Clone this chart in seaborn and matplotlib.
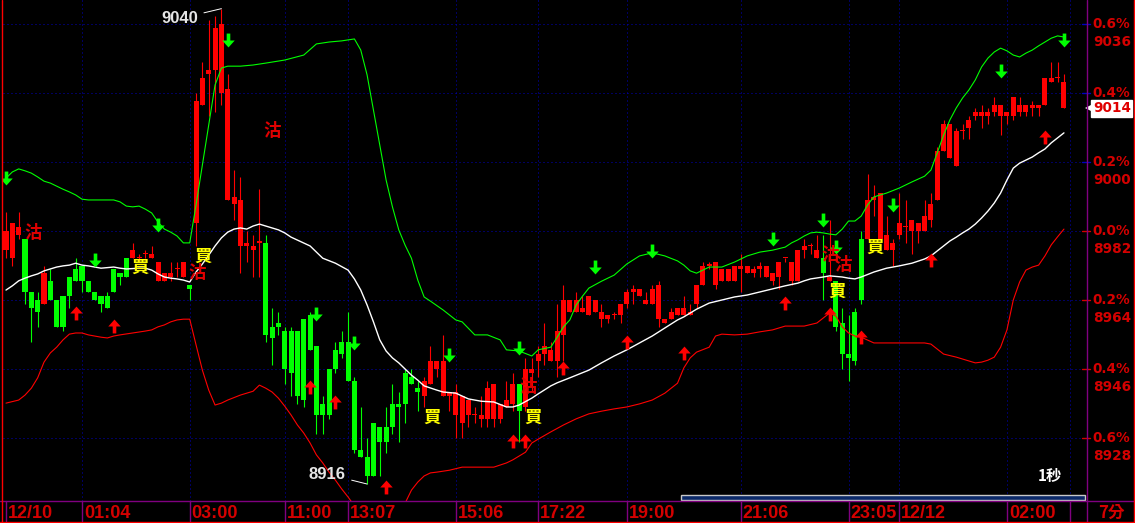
import numpy as np
import pandas as pd
import matplotlib
matplotlib.use("Agg")
import matplotlib.pyplot as plt
import matplotlib.transforms as mtransforms
from matplotlib.lines import Line2D
from matplotlib.patches import Rectangle
import seaborn as sns

# ---- candles (1 per bar, left to right) ----
opens = [8977, 8975, 8981, 8980, 8966, 8964, 8963, 8969, 8964, 8965, 8970, 8972, 8973, 8969, 8966, 8965, 8965, 8972, 8971, 8975,
         8975, 8975, 8976, 8975, 8969, 8969, 8970, 8972, 8970, 8968, 8984, 9015, 9023, 9024, 9018, 8990, 8989, 8978, 8978, 8977,
         8979, 8979, 8957, 8958, 8956, 8956, 8956, 8959, 8960, 8952, 8937, 8946, 8951, 8953, 8953, 8943, 8925, 8923, 8932, 8931,
         8931, 8937, 8937, 8945, 8944, 8941, 8939, 8942, 8946, 8939, 8939, 8934, 8932, 8934, 8934, 8933, 8933, 8933, 8933, 8936,
         8937, 8942, 8936, 8945, 8948, 8950, 8948, 8948, 8955, 8961, 8961, 8961, 8960, 8961, 8959, 8959, 8960, 8960, 8963, 8966,
         8965, 8963, 8963, 8959, 8958, 8959, 8960, 8960, 8960, 8963, 8968, 8973, 8968, 8969, 8969, 8969, 8972, 8971, 8971, 8972,
         8970, 8969, 8970, 8975, 8969, 8969, 8977, 8978, 8975, 8975, 8969, 8969, 8958, 8950, 8961, 8980, 8980, 8990, 8980, 8977,
         8977, 8981, 8983, 8982, 8982, 8982, 8985, 8990, 9003, 9001, 8999, 9008, 9009, 9012, 9012, 9012, 9013, 9012, 9012, 9012,
         9013, 9013, 9014, 9014, 9015, 9021, 9022, 9014]
highs = [8987, 8984, 8987, 8980, 8966, 8966, 8973, 8972, 8964, 8965, 8970, 8975, 8973, 8969, 8966, 8965, 8966, 8972, 8971, 8975,
         8979, 8976, 8977, 8978, 8974, 8971, 8974, 8974, 8974, 8968, 9018, 9026, 9037, 9038, 9040, 9023, 8998, 8996, 8982, 8981,
         8993, 8981, 8962, 8961, 8957, 8957, 8956, 8959, 8961, 8952, 8939, 8946, 8953, 8956, 8961, 8944, 8936, 8928, 8932, 8931,
         8936, 8942, 8940, 8946, 8946, 8943, 8944, 8952, 8948, 8955, 8940, 8942, 8939, 8938, 8936, 8939, 8943, 8942, 8937, 8943,
         8945, 8942, 8949, 8949, 8952, 8958, 8953, 8963, 8968, 8964, 8966, 8965, 8965, 8964, 8963, 8960, 8961, 8963, 8967, 8968,
         8967, 8966, 8968, 8969, 8959, 8962, 8962, 8965, 8963, 8968, 8974, 8974, 8974, 8972, 8972, 8973, 8976, 8973, 8973, 8974,
         8973, 8971, 8974, 8975, 8974, 8977, 8980, 8979, 8981, 8981, 8985, 8969, 8962, 8960, 8962, 8982, 8997, 8994, 8992, 8986,
         8980, 8992, 8990, 8985, 8984, 8990, 8992, 9004, 9011, 9010, 9009, 9010, 9012, 9014, 9015, 9014, 9017, 9015, 9013, 9017,
         9017, 9015, 9016, 9015, 9022, 9026, 9026, 9023]
lows = [8975, 8973, 8980, 8963, 8953, 8957, 8963, 8964, 8957, 8956, 8962, 8969, 8966, 8966, 8964, 8961, 8962, 8966, 8968, 8970,
        8975, 8974, 8975, 8975, 8969, 8969, 8969, 8970, 8970, 8964, 8978, 9015, 9012, 9013, 9015, 8990, 8985, 8971, 8974, 8970,
        8970, 8953, 8947, 8955, 8942, 8939, 8937, 8936, 8951, 8929, 8929, 8933, 8945, 8949, 8943, 8924, 8923, 8916, 8918, 8918,
        8924, 8929, 8927, 8932, 8942, 8935, 8936, 8942, 8944, 8939, 8935, 8928, 8928, 8931, 8932, 8931, 8931, 8931, 8932, 8936,
        8935, 8927, 8935, 8940, 8944, 8947, 8948, 8944, 8948, 8961, 8961, 8961, 8960, 8961, 8957, 8958, 8959, 8958, 8962, 8963,
        8965, 8963, 8963, 8957, 8958, 8959, 8960, 8960, 8960, 8962, 8968, 8972, 8967, 8969, 8969, 8969, 8966, 8971, 8970, 8970,
        8970, 8968, 8967, 8974, 8968, 8969, 8975, 8976, 8975, 8964, 8969, 8956, 8946, 8943, 8947, 8963, 8980, 8986, 8980, 8977,
        8973, 8980, 8979, 8976, 8979, 8982, 8983, 8990, 9003, 9001, 8999, 9006, 9006, 9011, 9009, 9010, 9012, 9007, 9010, 9011,
        9012, 9012, 9012, 9012, 9015, 9021, 9021, 9014]
closes = [8982, 8984, 8983, 8966, 8962, 8961, 8971, 8964, 8957, 8957, 8965, 8969, 8969, 8966, 8964, 8963, 8962, 8966, 8970, 8970,
          8977, 8975, 8976, 8976, 8974, 8971, 8971, 8972, 8974, 8967, 9016, 9022, 9024, 9035, 9036, 9019, 8991, 8990, 8979, 8978,
          8979, 8955, 8954, 8957, 8946, 8945, 8939, 8938, 8951, 8934, 8934, 8934, 8946, 8950, 8943, 8925, 8923, 8918, 8918, 8927,
          8927, 8931, 8936, 8937, 8942, 8940, 8943, 8948, 8948, 8948, 8940, 8940, 8939, 8938, 8934, 8934, 8941, 8942, 8937, 8938,
          8942, 8935, 8946, 8946, 8950, 8952, 8951, 8956, 8964, 8964, 8964, 8962, 8965, 8964, 8961, 8960, 8960, 8963, 8966, 8967,
          8967, 8964, 8967, 8968, 8959, 8961, 8962, 8962, 8961, 8968, 8973, 8973, 8974, 8972, 8972, 8973, 8973, 8973, 8972, 8973,
          8973, 8971, 8974, 8975, 8974, 8977, 8978, 8978, 8977, 8971, 8970, 8957, 8950, 8949, 8948, 8964, 8990, 8991, 8992, 8981,
          8979, 8984, 8983, 8985, 8984, 8986, 8989, 9003, 9010, 9010, 9008, 9008, 9011, 9013, 9013, 9013, 9015, 9015, 9013, 9017,
          9015, 9015, 9015, 9015, 9022, 9022, 9022, 9021]

# ---- bollinger bands, read at these bar positions ----
upper_idx = [0, 1, 2, 3, 4, 5, 6, 7, 8, 9, 10, 11, 12, 13,
             17, 18, 19, 20, 21, 22, 23, 24, 25, 26, 27, 28, 29, 30, 31, 32, 33, 34, 35,
             37, 39, 41, 44, 47, 49, 51, 53, 55,
             56, 57, 58, 59, 60, 61, 62, 63, 64, 65, 66, 67,
             69, 71, 72, 74, 76, 78, 79, 81, 83, 84, 86,
             87, 88, 89, 90, 91, 92,
             94, 96, 98, 100, 102, 104, 106,
             107, 108, 109,
             111, 113, 115, 117, 119, 121, 123,
             124, 125, 126, 127, 128, 129, 130, 131, 132, 133, 134, 135, 136, 137,
             139, 141, 143, 145,
             146, 147, 148, 149, 150, 151, 152, 153, 154, 155, 156, 157, 158, 159, 160, 161, 162, 163, 164, 165, 166, 167]
upper_val = [8995.8, 8997.4, 8998.2, 8997.7, 8997.1, 8996.1, 8995.0, 8994.5, 8993.7, 8992.9, 8992.2, 8991.4, 8990.3, 8990.1,
             8990.1, 8989.6, 8988.5, 8988.3, 8988.5, 8987.7, 8986.7, 8984.3, 8982.5, 8981.7, 8980.7, 8978.9, 8978.9, 8988.8, 8999.2, 9009.6, 9020.1, 9024.5, 9025.0,
             9025.0, 9025.3, 9025.8, 9026.6, 9027.9, 9030.8, 9031.3, 9031.6, 9032.1,
             9029.2, 9022.7, 9013.6, 9004.4, 8995.3, 8988.3, 8982.3, 8978.3, 8974.9, 8969.2, 8964.8, 8963.7,
             8961.4, 8958.8, 8958.3, 8954.9, 8954.9, 8953.6, 8951.0, 8950.7, 8949.4, 8951.0, 8951.7,
             8954.3, 8957.0, 8958.8, 8962.7, 8965.0, 8967.1,
             8968.9, 8970.5, 8973.4, 8975.5, 8976.3, 8975.5, 8974.2,
             8973.1, 8971.6, 8971.0,
             8972.6, 8972.6, 8973.9, 8975.5, 8976.5, 8977.0, 8977.8,
             8978.9, 8979.7, 8980.7, 8981.5, 8981.7, 8981.5, 8981.2, 8981.0, 8982.5, 8984.6, 8984.6, 8985.9, 8988.8, 8990.9,
             8991.9, 8993.2, 8994.8, 8996.3,
             8997.9, 9002.4, 9007.0, 9011.0, 9014.1, 9016.7, 9018.8, 9021.4, 9024.8, 9027.1, 9028.7, 9029.7, 9029.0, 9027.9, 9027.4, 9028.4, 9029.2, 9030.3, 9031.3, 9032.3, 9032.9, 9032.6]

mid_idx = [0, 1, 2, 3, 4, 5, 6, 7, 8, 9, 10, 11, 12, 13, 14, 15,
           17, 18, 19, 21, 22, 23, 24, 25, 26, 27, 28, 29,
           30, 31, 32, 33, 34, 35, 36, 37, 38, 39, 40, 41, 42, 43, 44, 45,
           48, 50, 52, 54,
           55, 56, 57, 58, 59, 60, 61, 62, 63, 64, 65, 66,
           68, 69, 71, 73, 75, 77, 79, 80, 81, 83, 84,
           86, 87, 89, 92, 94, 96, 98, 100, 102, 104, 106, 107, 109, 111, 113, 115, 117, 119, 121, 123, 125, 126, 127, 129, 130, 132, 133, 134, 135, 137, 139, 141, 143, 145,
           146, 147, 148, 149, 150, 151, 152, 153, 154, 155, 156, 157, 158, 159, 160, 161, 162, 163, 164, 165, 166, 167]
mid_val = [8966.6, 8967.7, 8969.0, 8969.7, 8970.3, 8970.8, 8971.6, 8972.1, 8972.6, 8972.9, 8973.1, 8973.6, 8973.1, 8972.9, 8972.6, 8972.3,
           8972.6, 8972.3, 8972.1, 8972.3, 8972.3, 8971.8, 8970.8, 8970.0, 8969.7, 8969.5, 8969.2, 8968.7,
           8971.3, 8973.4, 8975.7, 8978.1, 8980.2, 8981.7, 8982.5, 8982.8, 8982.5, 8983.3, 8983.8, 8983.3, 8982.8, 8982.3, 8981.5, 8980.4,
           8978.1, 8974.9, 8973.6, 8971.8,
           8969.5, 8966.6, 8962.7, 8958.3, 8953.6, 8950.7, 8948.9, 8947.6, 8946.0, 8944.4, 8943.1, 8941.6,
           8940.5, 8940.0, 8939.7, 8938.2, 8937.6, 8937.4, 8936.1, 8936.1, 8936.6, 8938.4, 8939.5,
           8941.6, 8942.4, 8943.7, 8945.7, 8947.6, 8949.4, 8951.0, 8952.8, 8954.6, 8956.7, 8958.8, 8959.6, 8961.6, 8963.2, 8964.0, 8964.8, 8965.3, 8966.1, 8966.9, 8967.7, 8968.4, 8969.0, 8969.5, 8970.0, 8970.3, 8970.0, 8969.7, 8969.5, 8970.0, 8971.3, 8972.3, 8972.9, 8973.6, 8974.7,
           8975.5, 8976.8, 8978.1, 8979.4, 8980.4, 8981.5, 8982.5, 8983.8, 8985.4, 8987.2, 8989.3, 8991.9, 8995.3, 8998.4, 8999.7, 9000.5, 9001.3, 9002.4, 9003.4, 9005.0, 9006.3, 9007.6]

lower_idx = [0, 2, 3, 4, 5, 6, 7, 8, 9, 10, 11, 12, 13, 14, 15, 16, 17, 18,
             20, 22, 23, 24, 25, 26, 27, 28, 29,
             30, 31, 32, 33, 34, 35,
             37, 39, 40, 41, 42, 43, 44, 45, 46, 47, 48, 49, 50, 51, 52, 53, 54, 55,
             57, 59, 61, 63, 64, 65, 66, 67, 68, 70, 72, 75, 77, 79, 80, 81, 82, 83, 84,
             86, 88, 90, 92, 94, 96, 98, 100, 102, 104, 106,
             107, 108, 109, 111, 112, 113, 115, 117, 119, 121, 123, 125, 126, 128, 130, 131, 132, 133, 134, 135,
             137, 139, 141, 143, 145,
             146, 147, 148, 150, 152, 153, 154, 155, 156, 157, 158, 159, 160, 161, 162, 163, 164, 165, 166, 167]
lower_val = [8937.1, 8937.9, 8939.2, 8941.0, 8943.7, 8947.8, 8950.2, 8951.7, 8953.6, 8955.1, 8955.4, 8955.4, 8954.9, 8954.6, 8954.3, 8954.1, 8954.6, 8954.9,
             8955.4, 8955.9, 8956.2, 8957.0, 8957.5, 8958.3, 8958.8, 8959.0, 8959.0,
             8952.3, 8945.7, 8940.5, 8936.6, 8937.1, 8937.9,
             8939.2, 8940.2, 8941.8, 8941.0, 8940.0, 8938.4, 8936.3, 8934.0, 8931.4, 8929.3, 8926.7, 8923.6, 8921.5, 8919.1, 8917.0, 8914.7, 8912.6, 8910.3,
             8906.6, 8904.8, 8906.6, 8911.0, 8914.4, 8916.5, 8918.1, 8918.9, 8919.1, 8919.6, 8920.4, 8920.4, 8920.4, 8921.5, 8922.3, 8923.3, 8924.3, 8926.7, 8927.7,
             8929.6, 8931.4, 8933.0, 8934.3, 8935.0, 8935.6, 8936.1, 8936.9, 8937.9, 8939.7, 8942.3,
             8946.3, 8948.9, 8950.4, 8951.7, 8954.6, 8955.1, 8954.9, 8955.1, 8955.7, 8956.2, 8957.2, 8957.2, 8957.2, 8958.0, 8960.6, 8959.8, 8957.0, 8955.4, 8954.6, 8954.3,
             8952.8, 8952.8, 8952.8, 8952.8, 8952.8,
             8952.5, 8951.2, 8949.9, 8949.1, 8948.1, 8947.6, 8947.8, 8948.3, 8949.1, 8951.7, 8956.2, 8964.0, 8968.7, 8971.8, 8972.6, 8973.1, 8975.5, 8978.4, 8980.5, 8982.5]

# ---- signal arrows and labels ----
sell_arrow_idx = [0, 14, 24, 35, 49, 55, 70, 81, 93, 102, 121, 129, 131, 140, 157, 167]
sell_arrow_px = [8995.8, 8974.4, 8983.6, 9031.8, 8960.3, 8952.8, 8949.6, 8951.5, 8972.6, 8976.8, 8979.9, 8984.9, 8977.8, 8988.8, 9023.7, 9031.8]
buy_arrow_idx = [11, 17, 48, 52, 60, 80, 82, 88, 98, 107, 123, 130, 135, 146, 164]
buy_arrow_px = [8960.6, 8957.2, 8941.3, 8937.4, 8915.2, 8927.2, 8927.2, 8946.3, 8953.0, 8950.2, 8963.2, 8960.3, 8954.3, 8974.4, 9006.5]

sell_txt_idx = [4.3, 30.2, 42, 82.4, 130, 132.1]
sell_txt_px = [8981.5, 8971.0, 9008.1, 8941.3, 8975.7, 8973.1]
buy_txt_idx = [21.2, 31.1, 67.2, 83.2, 131.2, 137.2]
buy_txt_px = [8972.3, 8975.2, 8933.2, 8933.2, 8966.1, 8977.6]

# ---- axes labels ----
grid_prices = [9036, 9018, 9000, 8982, 8964, 8946, 8928]
pct_labels = ["0.6%", "0.4%", "0.2%", "0.0%", "0.2%", "0.4%", "0.6%"]
price_labels = ["9036", "9018", "9000", "8982", "8964", "8946", "8928"]
last_price = 9014

time_idx = [0, 12, 29, 44, 54, 71, 84, 98, 116, 133, 141, 158]
time_labels = ["12/10", "01:04", "03:00", "11:00", "13:07", "15:06", "17:22", "19:00", "21:06", "23:05", "12/12", "02:00"]
end_idx = 168

RED = "#ff0000"
GREEN = "#00ff00"
LBL_RED = "#d40000"
PURPLE = "#800080"
BLUE = "#0000c0"

sns.set_style("dark", {"axes.facecolor": "black", "figure.facecolor": "black", "axes.grid": False})
plt.rcParams["font.family"] = ["DejaVu Sans", "Noto Sans CJK TC"]

W, H = 1135, 523
fig = plt.figure(figsize=(W / 100, H / 100), dpi=100, facecolor="black")
ax = fig.add_axes([3 / W, (H - 501) / H, (1086 - 3) / W, 501 / H])
ax.set_facecolor("black")
ax.set_xlim(-0.4736, 170.48)
ax.set_ylim(8911.57, 9042.26)
for s in ax.spines.values():
    s.set_visible(False)
ax.set_xticks([])
ax.set_yticks([])

# dotted grid
for p in grid_prices:
    ax.axhline(p, color=BLUE, lw=0.72, ls=(0, (1, 3)), zorder=0)
for i in time_idx[1:] + [end_idx]:
    ax.axvline(i, color=BLUE, lw=0.72, ls=(0, (1, 3)), zorder=0)

# candles
df = pd.DataFrame({"o": opens, "h": highs, "l": lows, "c": closes})
up = df["c"] >= df["o"]
cols = np.where(up, RED, GREEN)
ax.vlines(df.index, df["l"], df["h"], colors=cols, lw=0.8, zorder=2)
body_lo = np.minimum(df["o"], df["c"])
body_h = np.maximum((df["c"] - df["o"]).abs(), 0.3)
ax.bar(df.index, body_h, bottom=body_lo, width=0.8, color=cols, linewidth=0, zorder=3)

# bands
sns.lineplot(x=upper_idx, y=upper_val, ax=ax, color=GREEN, lw=0.8, estimator=None, sort=False, zorder=4)
sns.lineplot(x=mid_idx, y=mid_val, ax=ax, color="white", lw=1.0, estimator=None, sort=False, zorder=4)
sns.lineplot(x=lower_idx, y=lower_val, ax=ax, color=RED, lw=0.8, estimator=None, sort=False, zorder=4)

# arrows
down_arrow = [(-0.13, 0.5), (0.13, 0.5), (0.13, 0.0), (0.45, 0.0), (0.0, -0.5), (-0.45, 0.0), (-0.13, 0.0)]
up_arrow = [(x, -y) for x, y in down_arrow]
ax.plot(sell_arrow_idx, sell_arrow_px, ls="none", marker=down_arrow, ms=10, color=GREEN, mew=0, zorder=5)
ax.plot(buy_arrow_idx, buy_arrow_px, ls="none", marker=up_arrow, ms=10, color=RED, mew=0, zorder=5)

cjk = ["Noto Sans CJK TC", "DejaVu Sans"]
for x, y in zip(sell_txt_idx, sell_txt_px):
    ax.text(x, y, "沽", color="#e00000", fontsize=12.5, fontweight="bold", family=cjk, ha="center", va="center", zorder=6)
for x, y in zip(buy_txt_idx, buy_txt_px):
    ax.text(x, y, "買", color="#ffff00", fontsize=12.5, fontweight="bold", family=cjk, ha="center", va="center", zorder=6)

# high / low call-outs
hi_i = int(np.argmax(highs))
lo_i = int(np.argmin(lows))
lbl_font = dict(color="#e6e6e6", fontsize=12, fontweight="bold", family="Liberation Sans", ha="center", va="center")
ax.annotate(f"{highs[hi_i]}", xy=(hi_i, highs[hi_i]), xytext=(hi_i - 6.6, highs[hi_i] - 2.6),
            arrowprops=dict(arrowstyle="-", color="white", lw=0.7, shrinkA=2, shrinkB=0), zorder=6, **lbl_font)
ax.annotate(f"{lows[lo_i]}", xy=(lo_i, lows[lo_i]), xytext=(lo_i - 6.3, lows[lo_i] + 2.6),
            arrowprops=dict(arrowstyle="-", color="white", lw=0.7, shrinkA=2, shrinkB=0), zorder=6, **lbl_font)

# right price scale (the last-price tag covers the label under it)
ytr = ax.get_yaxis_transform()
ytr_low = mtransforms.offset_copy(ytr, fig=fig, x=0, y=-18, units="dots")
for p, pct, lab in zip(grid_prices, pct_labels, price_labels):
    tick_col = BLUE if p > 8982 else LBL_RED
    ax.plot([0.9965, 1.0035], [p, p], transform=ytr, color=tick_col, lw=1, clip_on=False)
    ax.text(1.0063, p, pct, transform=ytr, color=LBL_RED, fontsize=9.8, fontweight="bold",
            ha="left", va="center", clip_on=False)
    if abs(p - 4.7 - last_price) > 3:
        ax.text(1.0063, p, lab, transform=ytr_low, color=LBL_RED, fontsize=9.8, fontweight="bold",
                ha="left", va="center", clip_on=False)

ax.plot([1.0032], [last_price], transform=ytr, marker="<", ms=6, color="white", mew=0, clip_on=False, zorder=7)
ax.text(1.0063, last_price, str(last_price), transform=ytr, color="#e00000", fontsize=9.8, fontweight="bold",
        ha="left", va="center", clip_on=False, zorder=8,
        bbox=dict(boxstyle="square,pad=0.12", fc="white", ec="white"))

# time axis
xtr = ax.get_xaxis_transform()
xtr_lbl = mtransforms.offset_copy(xtr, fig=fig, x=2, y=0, units="dots")
for i in time_idx + [end_idx]:
    ax.plot([i, i], [-0.04, 0], transform=xtr, color=PURPLE, lw=1, clip_on=False)
for i, lab in zip(time_idx, time_labels):
    ax.text(i, -0.024, lab, transform=xtr_lbl, color=LBL_RED, fontsize=13, fontweight="bold",
            family="Liberation Sans", ha="left", va="center", clip_on=False)

# frame lines
fig.add_artist(Line2D([0, 1], [22.5 / H, 22.5 / H], color=PURPLE, lw=1, transform=fig.transFigure))
fig.add_artist(Line2D([1086.5 / W] * 2, [0, 1], color=PURPLE, lw=1, transform=fig.transFigure))
fig.add_artist(Line2D([1.5 / W] * 2, [0, 1], color=RED, lw=1, transform=fig.transFigure))
fig.add_artist(Line2D([1133.5 / W] * 2, [0, 1], color=RED, lw=1, transform=fig.transFigure))
fig.add_artist(Line2D([0, 1], [1.5 / H, 1.5 / H], color=RED, lw=1, transform=fig.transFigure))

# scroll bar
fig.add_artist(Rectangle((681 / W, 23 / H), (1085 - 681) / W, 5 / H, transform=fig.transFigure,
                         fc="#0a2868", ec="#c8c8c8", lw=1))

fig.text(1050 / W, 1 - 476 / H, "1秒", color="white", fontsize=11, fontweight="bold", family=cjk, ha="center", va="center")
fig.text(1111 / W, 1 - 513 / H, "7分", color=LBL_RED, fontsize=12, fontweight="bold", family=cjk, ha="center", va="center")

fig.savefig("out.png", dpi=100, facecolor="black")
